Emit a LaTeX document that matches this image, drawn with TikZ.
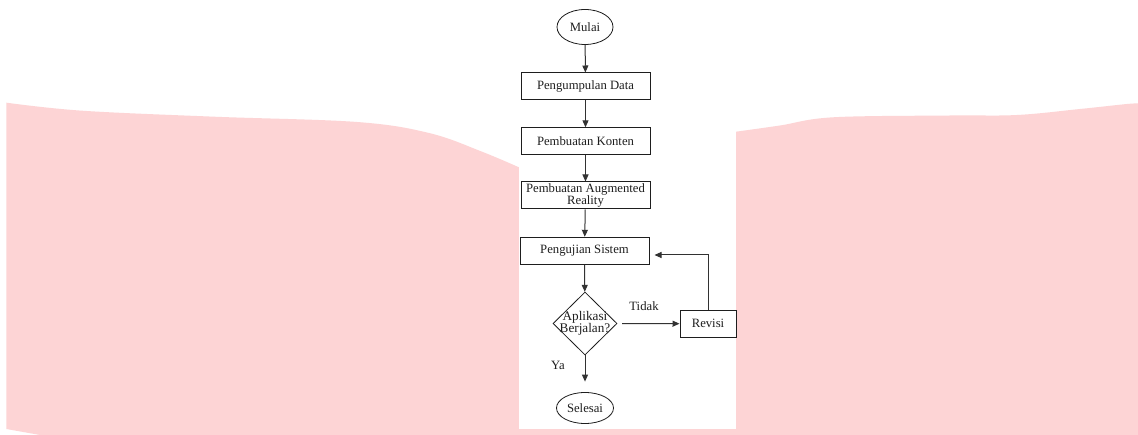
\documentclass[tikz,border=0pt]{standalone}
\usepackage{fontspec}
\setmainfont{Liberation Serif}
\usetikzlibrary{shapes.geometric,arrows.meta}
\definecolor{pinkbg}{RGB}{253,212,213}
\definecolor{ink}{RGB}{30,30,30}
\definecolor{wire}{RGB}{50,50,50}
\begin{document}
\begin{tikzpicture}[x=1pt,y=-1pt,
  font=\fontsize{12.7}{12.6}\selectfont,
  procbox/.style={draw=ink, line width=1pt, minimum width=129pt, minimum height=27pt, inner sep=0pt, text=ink, align=center},
  term/.style={draw=ink, ellipse, line width=0.8pt, inner sep=0pt, text=ink},
  dec/.style={draw=ink, diamond, line width=0.8pt, minimum width=64pt, minimum height=63pt, inner sep=0pt},
  lbl/.style={text=ink, inner sep=0pt},
  flow/.style={draw=wire, line width=1pt, -{Triangle[length=7pt,width=6pt]}}]
\useasboundingbox (0,0) rectangle (1138,435);
% background
\fill[white] (0,0) rectangle (1138,435);
\fill[pinkbg] plot[smooth, tension=0.6] coordinates {(6.4,102.7) (82,110.7) (214,116.7) (357,122) (429,133) (482,151.7) (525,170)}
  -- (730,132)
  -- plot[smooth, tension=0.6] coordinates {(736,131.7) (780,125.5) (833,117.3) (950,115.5) (1017,115) (1080,109) (1127,104) (1138,103.5)}
  -- (1138,435) -- (40,435) -- (6.4,429) -- cycle;
\fill[white] (519,0) rectangle (736,429);
% nodes
\node[term, minimum width=56pt, minimum height=35pt] (mulai) at (585,27) {Mulai};
\node[procbox] (d1) at (585.5,86.5) {Pengumpulan Data};
\node[procbox] (d2) at (585.5,141.3) {Pembuatan Konten};
\node[procbox] (d3) at (585.5,195.5) {Pembuatan Augmented\\Reality};
\node[procbox] (d4) at (584.5,250.8) {Pengujian Sistem};
\node[dec, label={[lbl, align=center, font=\fontsize{13.2}{12.6}\selectfont]center:Aplikasi\\Berjalan?}] (dia) at (585,323.5) {};
\node[procbox, minimum width=56pt] (rev) at (708,323.7) {Revisi};
\node[term, minimum width=57pt, minimum height=31pt] (sel) at (585,408) {Selesai};
% labels
\node[lbl] (tidak) at (644,306) {Tidak};
\node[lbl] (ya) at (558,365) {Ya};
% connectors
\draw[flow] (mulai) -- (d1);
\draw[flow] (d1) -- (d2);
\draw[flow] (d2) -- (d3);
\draw[flow] (d3) -- (d4);
\draw[flow] (d4) -- (dia);
\draw[flow, shorten <=4.7pt] (dia.east) -- (rev.west);
\draw[flow, shorten >=5pt] (rev.north) |- ([yshift=-4.2pt]d4.east);
\draw[flow, shorten >=10.5pt] (dia.south) -- (sel.north);
\end{tikzpicture}
\end{document}
